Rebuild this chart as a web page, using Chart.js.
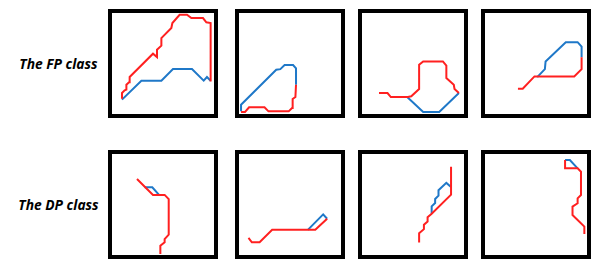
<!DOCTYPE html>
<html>
<head>
<meta charset="utf-8">
<script src="https://cdn.jsdelivr.net/npm/chart.js@4.4.1/dist/chart.umd.min.js"></script>
<style>
  html, body { margin: 0; padding: 0; background: #fff; }
  body { width: 599px; height: 268px; position: relative; overflow: hidden; font-family: "Open Sans", "DejaVu Sans", sans-serif; }
  .panel { position: absolute; width: 110px; height: 109px; border: 4px solid #000; box-sizing: border-box; background: #fff; }
  .panel canvas { display: block; }
  .rowlabel { position: absolute; left: 0; width: 117px; text-align: center; font-weight: bold; font-style: italic; font-size: 13.8px; color: #000; line-height: 16px; }
</style>
</head>
<body>
<script>
// ---- Data (trajectory coordinates in a 0..100 space per panel) ----
const rowLabels = ["The FP class", "The DP class"];

// FP class panels
const fp1Red  = [[9.8,15.2],[9.8,20.8],[12.4,23.4],[14.1,24.1],[14.1,29.0],[16.7,31.4],[17.3,36.6],[40.2,59.7],[44.1,56.4],[44.1,63.7],[48.4,67.7],[48.4,75.2],[58.2,85.1],[59.2,90.1],[66.3,98.3],[73.5,98.3],[77.8,95.0],[89.2,95.0],[92.5,90.8],[96.7,90.1],[96.7,32.3]];
const fp1Blue = [[9.8,14.2],[28.8,33.0],[48.4,33.0],[59.8,44.6],[78.4,44.6],[89.9,33.0],[93.1,36.6],[96.7,33.0]];

const fp2Red  = [[2.0,2.0],[5.9,2.0],[9.9,6.6],[25.0,6.6],[28.9,2.6],[48.7,2.6],[52.0,5.9],[52.6,14.8],[55.3,16.8],[55.9,28.9]];
const fp2Blue = [[2.0,2.6],[2.0,9.2],[36.5,43.8],[40.5,44.4],[44.7,48.4],[53.0,48.4],[55.9,45.1],[55.9,28.9]];

const fp3Red  = [[16.7,20.8],[25.0,20.8],[28.3,16.8],[45.0,16.8],[48.3,17.5],[56.0,24.8],[56.0,48.8],[60.0,52.1],[79.3,52.1],[82.7,47.9],[82.7,35.6],[90.0,29.0],[90.7,24.8],[95.0,20.8]];
const fp3Blue = [[44.3,16.8],[60.0,2.0],[75.7,2.0],[95.0,20.8]];

const fp4Red  = [[32.3,25.0],[37.0,25.0],[48.5,37.2],[87.5,37.2],[94.7,44.4],[94.7,56.3]];
const fp4Blue = [[51.2,36.5],[58.7,44.4],[59.4,52.0],[79.2,71.1],[90.8,71.1],[94.7,66.8],[94.7,56.3]];

// DP class panels
const dp1Red  = [[24.5,75.3],[40.2,59.5],[51.6,59.5],[55.6,55.3],[55.6,20.1],[51.6,15.8],[51.6,12.5],[47.4,9.2],[47.4,1.0]];
const dp1Blue = [[32.0,67.1],[39.5,67.1],[46.1,59.5]];

const dp2Red  = [[9.3,16.9],[12.6,12.6],[20.2,12.6],[32.5,24.9],[74.8,24.9],[86.4,35.9]];
const dp2Blue = [[67.5,24.9],[82.5,40.2],[86.4,35.9]];

const dp3Red  = [[56.0,12.3],[56.0,21.6],[60.7,25.6],[60.7,29.9],[64.3,33.2],[64.3,37.5],[68.3,40.9],[87.3,59.8],[87.3,87.4]];
const dp3Blue = [[68.3,40.9],[68.3,48.2],[71.7,51.5],[71.7,55.5],[75.0,58.8],[75.0,64.1],[82.7,71.4],[87.3,67.4]];

const dp4Red  = [[78.5,94.1],[78.5,85.8],[90.8,85.8],[94.1,82.5],[94.1,59.4],[90.8,56.1],[90.8,51.2],[85.8,47.9],[85.8,39.6],[97.4,28.1],[97.4,20.8]];
const dp4Blue = [[78.5,94.1],[83.2,94.1],[90.8,85.8]];

const panelSeries = [
  [[fp1Red, fp1Blue], [fp2Red, fp2Blue], [fp3Red, fp3Blue], [fp4Red, fp4Blue]],
  [[dp1Red, dp1Blue], [dp2Red, dp2Blue], [dp3Red, dp3Blue], [dp4Red, dp4Blue]]
];

// ---- Layout ----
const colLefts = [108, 235, 358, 481];
const rowTops = [9, 150];
const RED = '#ff2020';
const BLUE = '#1f78c8';

function toPts(arr) { return arr.map(p => ({x: p[0], y: p[1]})); }

rowTops.forEach((top, r) => {
  const lab = document.createElement('div');
  lab.className = 'rowlabel';
  lab.style.top = (top + 54.5 - 8) + 'px';
  lab.textContent = rowLabels[r];
  document.body.appendChild(lab);

  colLefts.forEach((left, c) => {
    const div = document.createElement('div');
    div.className = 'panel';
    div.style.left = left + 'px';
    div.style.top = top + 'px';
    const cv = document.createElement('canvas');
    cv.width = 102; cv.height = 101;
    cv.style.width = '102px'; cv.style.height = '101px';
    div.appendChild(cv);
    document.body.appendChild(div);
    const [red, blue] = panelSeries[r][c];
    new Chart(cv, {
      type: 'scatter',
      data: {
        datasets: [
          { data: toPts(blue), showLine: true, borderColor: BLUE, borderWidth: 2, pointRadius: 0, fill: false, tension: 0, clip: false, order: 2 },
          { data: toPts(red), showLine: true, borderColor: RED, borderWidth: 2, pointRadius: 0, fill: false, tension: 0, clip: false, order: 1 }
        ]
      },
      options: {
        responsive: false,
        animation: false,
        devicePixelRatio: 1,
        layout: { padding: 0 },
        plugins: { legend: { display: false }, tooltip: { enabled: false } },
        scales: {
          x: { type: 'linear', min: 0, max: 100, display: false },
          y: { type: 'linear', min: 0, max: 100, display: false }
        }
      }
    });
  });
});
</script>
</body>
</html>
